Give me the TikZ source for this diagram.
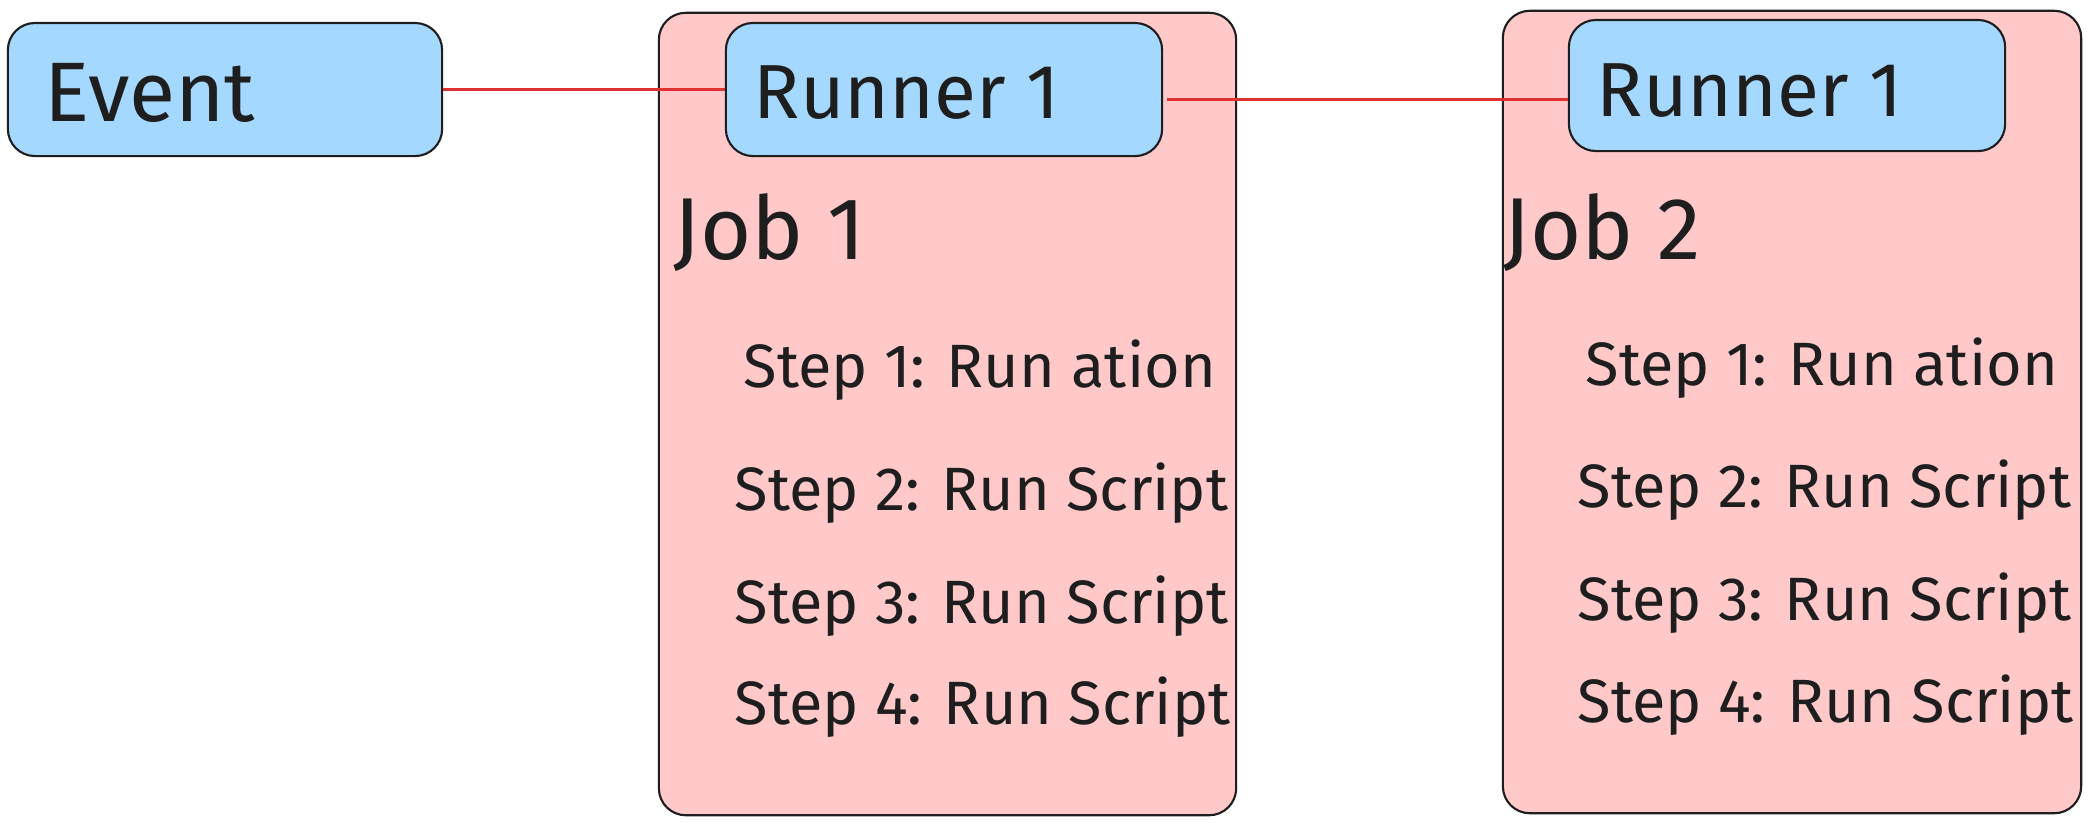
\documentclass[tikz,border=0pt]{standalone}
\usepackage{fontspec}
\setmainfont{Fira Sans}
\definecolor{boxblue}{HTML}{A5D8FF}
\definecolor{boxpink}{HTML}{FFC9C9}
\definecolor{ink}{HTML}{1E1E1E}
\definecolor{linkred}{HTML}{E03131}
\tikzset{
  bluebox/.style={draw=ink, fill=boxblue, line width=0.6pt, rounded corners=0.27cm, inner sep=0pt},
  jobbox/.style={draw=ink, fill=boxpink, line width=0.6pt, rounded corners=0.27cm, inner sep=0pt},
  eventtxt/.style={anchor=west, inner sep=0pt, text=ink, font=\fontsize{24}{28}\selectfont},
  runtxt/.style={anchor=west, inner sep=0pt, text=ink, font=\fontsize{21.8}{26}\selectfont},
  jobtxt/.style={anchor=west, inner sep=0pt, text=ink, font=\fontsize{25}{30}\selectfont},
  steptxt/.style={anchor=west, inner sep=0pt, text=ink, font=\fontsize{17.4}{21}\selectfont},
  link/.style={draw=linkred, line width=0.9pt}
}
\begin{document}
\begin{tikzpicture}[x=0.01cm, y=-0.01cm]
\useasboundingbox (0,0) rectangle (2089,826);
% boxes
\node[bluebox, minimum width=4.34cm, minimum height=1.33cm] (event) at (225,89.5) {};
\node[jobbox, minimum width=5.77cm, minimum height=8.02cm] (job1) at (947.5,414) {};
\node[bluebox, minimum width=4.36cm, minimum height=1.33cm] (runA) at (944,89.5) {};
\node[jobbox, minimum width=5.78cm, minimum height=8.02cm] (job2) at (1792,412) {};
\node[bluebox, minimum width=4.36cm, minimum height=1.31cm] (runB) at (1787,85.5) {};
% texts
\node[eventtxt] (eventT) at (44,93) {Event};
\node[runtxt] (runAT) at (753,93) {Runner 1};
\node[runtxt] (runBT) at (1596,91) {Runner 1};
\node[jobtxt] (job1T) at (673,233) {Job 1};
\node[jobtxt] (job2T) at (1503,233) {Job 2};
\node[steptxt] (s11) at (743,370) {Step 1: Run ation};
\node[steptxt] (s12) at (734,493) {Step 2: Run Script};
\node[steptxt] (s13) at (734,606) {Step 3: Run Script};
\node[steptxt] (s14) at (734,707) {Step 4: Run Script};
\node[steptxt] (s21) at (1585,368) {Step 1: Run ation};
\node[steptxt] (s22) at (1577,490) {Step 2: Run Script};
\node[steptxt] (s23) at (1577,603) {Step 3: Run Script};
\node[steptxt] (s24) at (1577,705) {Step 4: Run Script};
% connectors
\draw[link] (event.east) -- (runA.west);
\coordinate (l2s) at ([shift={(0.04cm,-0.1cm)}]runA.east);
\draw[link] (l2s) -- (l2s -| runB.west);
\end{tikzpicture}
\end{document}
